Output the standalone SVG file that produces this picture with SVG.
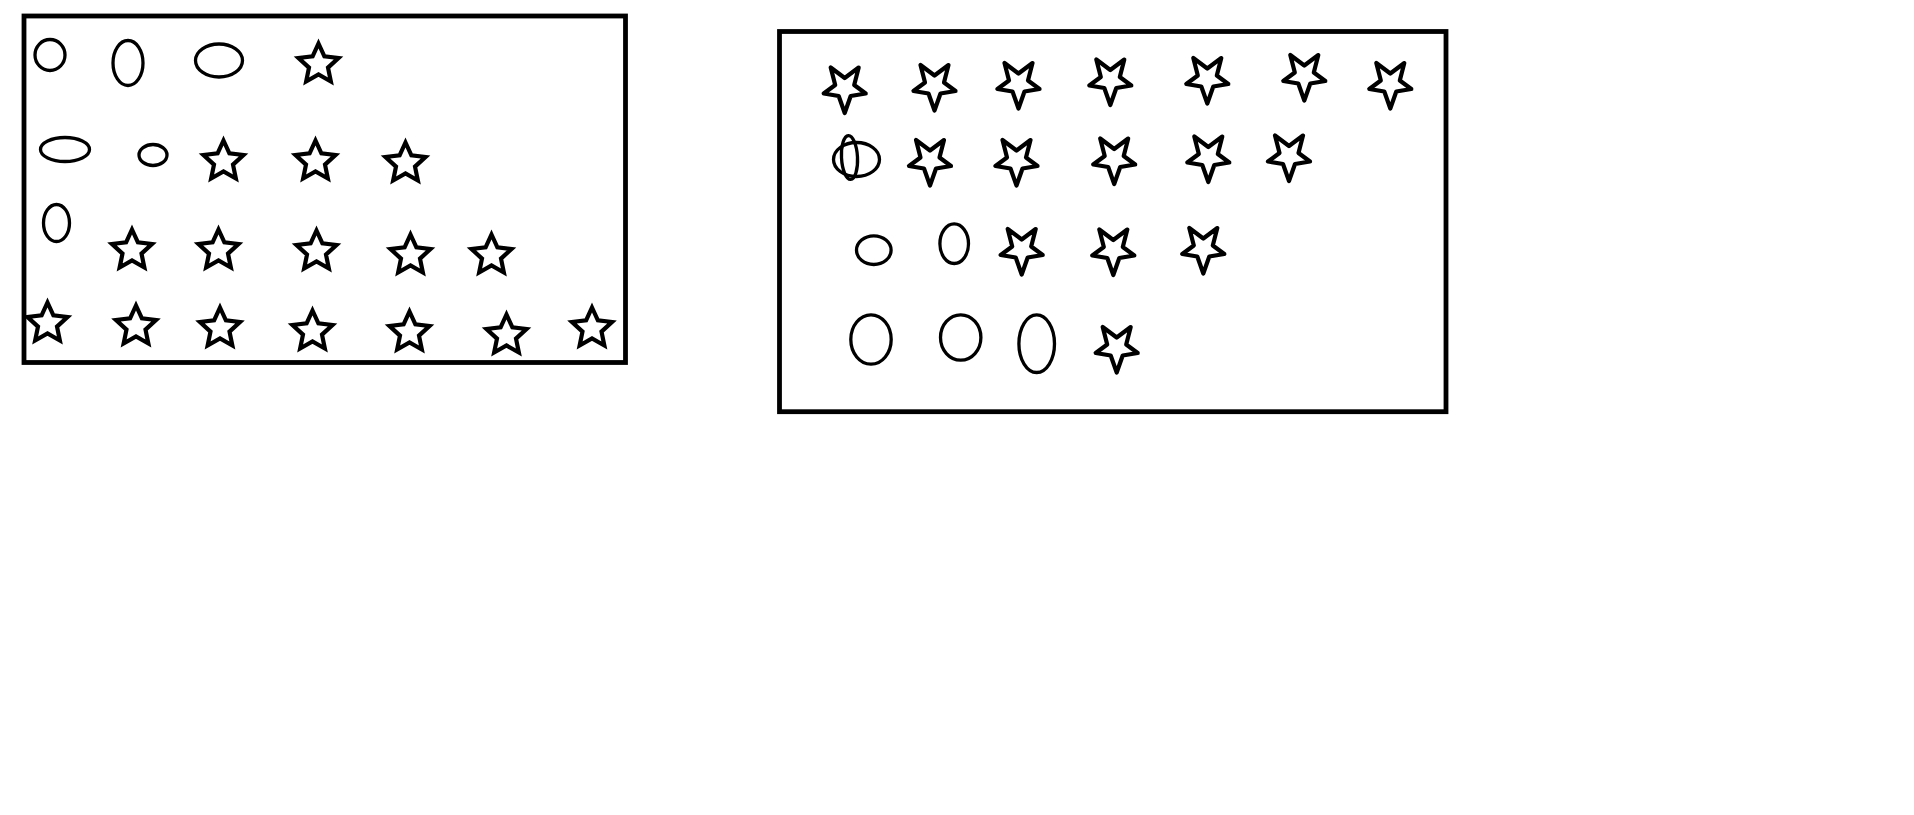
<svg xmlns="http://www.w3.org/2000/svg" width="1914" height="815" viewBox="0 0 1914 815">
<style>
.box{fill:none;stroke:#000;stroke-width:4.8}
.sh{fill:none;stroke:#000;stroke-width:3.3}
.su{fill:#fff;stroke:#000;stroke-width:4.2;stroke-linejoin:miter;stroke-miterlimit:10}
.sd{fill:#fff;stroke:#000;stroke-width:4.2;stroke-linejoin:round}
</style>
<defs>
<path id="starUp" d="M0,-21 L5.88,-8.09 L19.97,-6.49 L9.51,3.09 L12.34,16.99 L0,10 L-12.34,16.99 L-9.51,3.09 L-19.97,-6.49 L-5.88,-8.09 Z"/>
<path id="starDown" d="M0,24.5 L6,7.5 L21,5 L9.5,-3.5 L14,-21 L0,-10.5 L-14,-21 L-9.5,-3.5 L-21,5 L-6,7.5 Z"/>
</defs>
<rect width="1914" height="815" fill="#fff"/>
<g id="panel1">
<rect class="box" x="24" y="16" width="601.5" height="346.5"/>
<g id="p1-shapes">
<ellipse class="sh" cx="50" cy="55" rx="15" ry="15.5"/>
<ellipse class="sh" cx="128" cy="63" rx="15" ry="22.5"/>
<ellipse class="sh" cx="219" cy="60.5" rx="23.5" ry="16.5"/>
<ellipse class="sh" cx="65" cy="149.5" rx="24.5" ry="12"/>
<ellipse class="sh" cx="153" cy="155" rx="14" ry="10.5"/>
<ellipse class="sh" cx="56.5" cy="223" rx="13" ry="18.5"/>
<use class="su" href="#starUp" x="318.5" y="64.5"/>
<use class="su" href="#starUp" x="223.5" y="161.5"/>
<use class="su" href="#starUp" x="315.5" y="161.5"/>
<use class="su" href="#starUp" x="405.5" y="163.5"/>
<use class="su" href="#starUp" x="132" y="250.5"/>
<use class="su" href="#starUp" x="218.5" y="250.5"/>
<use class="su" href="#starUp" x="316.5" y="251.5"/>
<use class="su" href="#starUp" x="410.5" y="255.5"/>
<use class="su" href="#starUp" x="491.5" y="255.5"/>
<use class="su" href="#starUp" x="47.5" y="323.5"/>
<use class="su" href="#starUp" x="136" y="326.5"/>
<use class="su" href="#starUp" x="220" y="328.5"/>
<use class="su" href="#starUp" x="312.5" y="331.5"/>
<use class="su" href="#starUp" x="409.5" y="332.5"/>
<use class="su" href="#starUp" x="506.5" y="335.5"/>
<use class="su" href="#starUp" x="592" y="328.5"/>
</g>
</g>
<g id="panel2">
<rect class="box" x="779.5" y="31.5" width="666.5" height="380.2"/>
<g id="p2-shapes">
<use class="sd" href="#starDown" x="844.7" y="88.5"/>
<use class="sd" href="#starDown" x="934.5" y="86"/>
<use class="sd" href="#starDown" x="1018.5" y="84"/>
<use class="sd" href="#starDown" x="1110.3" y="80.5"/>
<use class="sd" href="#starDown" x="1207.3" y="79"/>
<use class="sd" href="#starDown" x="1304.3" y="76"/>
<use class="sd" href="#starDown" x="1390.3" y="84"/>
<ellipse class="sh" cx="856.5" cy="159.5" rx="23" ry="17"/>
<ellipse class="sh" cx="849.5" cy="157.5" rx="8" ry="22" transform="rotate(-3 849.5 157.5)"/>
<use class="sd" href="#starDown" x="930" y="161"/>
<use class="sd" href="#starDown" x="1016.5" y="161"/>
<use class="sd" href="#starDown" x="1114.2" y="159.5"/>
<use class="sd" href="#starDown" x="1208.3" y="157.5"/>
<use class="sd" href="#starDown" x="1289" y="156.5"/>
<ellipse class="sh" cx="873.8" cy="250.2" rx="17.3" ry="14.3"/>
<ellipse class="sh" cx="954.2" cy="243.7" rx="14.3" ry="19.8"/>
<use class="sd" href="#starDown" x="1021.7" y="250"/>
<use class="sd" href="#starDown" x="1113.3" y="250.5"/>
<use class="sd" href="#starDown" x="1203.3" y="249"/>
<ellipse class="sh" cx="871" cy="339.5" rx="20.2" ry="24.7"/>
<ellipse class="sh" cx="960.7" cy="337.5" rx="20.2" ry="22.7"/>
<ellipse class="sh" cx="1036.7" cy="343.7" rx="17.8" ry="28.8"/>
<use class="sd" href="#starDown" x="1116.7" y="348"/>
</g>
</g>
</svg>
